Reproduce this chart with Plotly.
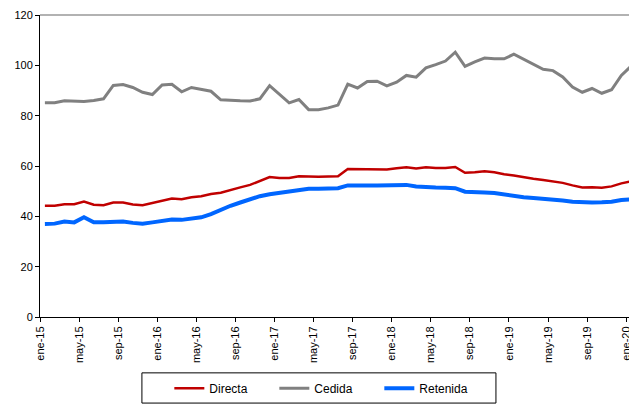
import plotly.graph_objects as go

meses = ["ene", "feb", "mar", "abr", "may", "jun", "jul", "ago", "sep", "oct", "nov", "dic"]
fechas = [f"{meses[i % 12]}-{15 + i // 12}" for i in range(61)]

directa = [44.2, 44.2, 44.8, 44.8, 45.9, 44.6, 44.4, 45.5, 45.5, 44.7,
           44.4, 45.2, 46.3, 47.1, 46.8, 47.6, 48.0, 48.9, 49.4, 50.6,
           51.5, 52.5, 53.9, 55.6, 55.2, 55.2, 55.9, 55.7, 55.7, 55.8,
           55.9, 58.8, 58.7, 58.7, 58.7, 58.6, 59.1, 59.5, 59.0, 59.5,
           59.2, 59.2, 59.6, 57.3, 57.5, 57.9, 57.5, 56.7, 56.2, 55.4,
           54.9, 54.4, 54.0, 53.3, 52.3, 51.5, 51.6, 51.4, 51.9, 53.1,
           53.9]

cedida = [85.1, 85.1, 85.9, 85.8, 85.6, 86.0, 86.7, 92.0, 92.4, 91.2,
          89.3, 88.4, 92.2, 92.5, 89.5, 91.2, 90.3, 89.7, 86.3, 86.0,
          85.9, 85.8, 86.7, 91.9, 88.4, 85.1, 86.4, 82.4, 82.4, 83.1,
          84.2, 92.5, 91.0, 93.6, 93.7, 91.8, 93.3, 96.0, 95.3, 99.0,
          100.3, 101.7, 105.2, 99.6, 101.4, 102.9, 102.6, 102.6, 104.4, 102.4,
          100.3, 98.4, 97.9, 95.4, 91.4, 89.3, 90.8, 88.9, 90.3, 96.0,
          99.7]

retenida = [37.0, 37.1, 37.9, 37.6, 39.6, 37.6, 37.6, 37.8, 37.9, 37.4,
            37.1, 37.6, 38.2, 38.7, 38.6, 39.0, 39.6, 40.9, 42.6, 44.2,
            45.5, 46.8, 48.0, 48.8, 49.3, 49.8, 50.6, 51.0, 51.0, 51.1,
            51.2, 52.3, 52.5, 52.3, 52.3, 52.4, 52.5, 52.5, 51.9, 51.9,
            51.5, 51.4, 51.2, 49.8, 49.5, 49.5, 49.3, 48.6, 48.0, 47.6,
            47.3, 47.1, 46.8, 46.3, 45.8, 45.5, 45.5, 45.6, 45.8, 46.5,
            46.8]

series = [
    ("Directa", directa, "#C00000", 2.5),
    ("Cedida", cedida, "#808080", 3),
    ("Retenida", retenida, "#0066FF", 4),
]

fig = go.Figure()
for nombre, vals, color, ancho in series:
    fig.add_trace(go.Scatter(
        x=list(range(len(fechas))),
        y=vals,
        mode="lines",
        name=nombre,
        line=dict(color=color, width=ancho),
    ))

# ticks sit on the left edge of each 4th month, like the excel category axis
tick_idx = list(range(0, 61, 4))

# the page body has an 8px margin, so margins are trimmed to compensate
fig.update_layout(
    width=637,
    height=406,
    margin=dict(l=32, r=9, t=7, b=97),
    paper_bgcolor="white",
    plot_bgcolor="white",
    font=dict(family="Arial, Liberation Sans", size=11, color="black"),
    showlegend=True,
    legend=dict(
        orientation="h",
        x=0.217, xanchor="left",
        y=-0.236, yanchor="middle",
        borderwidth=0,
        bgcolor="rgba(0,0,0,0)",
        entrywidth=60,
        entrywidthmode="pixels",
        font=dict(size=12),
    ),
    xaxis=dict(
        range=[-0.5, 60.5],
        tickvals=[i - 0.5 for i in tick_idx],
        ticktext=[fechas[i] for i in tick_idx],
        tickangle=-90,
        ticks="outside",
        ticklen=4,
        tickcolor="black",
        showline=True,
        linecolor="black",
        linewidth=1,
        showgrid=False,
        zeroline=False,
        automargin=False,
        ticklabeloverflow="allow",
    ),
    yaxis=dict(
        range=[0, 120],
        dtick=20,
        ticks="outside",
        ticklen=4,
        tickcolor="black",
        showline=True,
        linecolor="black",
        linewidth=1,
        showgrid=False,
        zeroline=False,
        automargin=False,
        ticklabeloverflow="allow",
    ),
    shapes=[
        dict(type="line", xref="paper", yref="paper", x0=0, y0=1, x1=1, y1=1,
             line=dict(color="#999999", width=1.5), layer="above"),
        dict(type="line", xref="paper", yref="paper", x0=1, y0=0, x1=1, y1=1,
             line=dict(color="#999999", width=1.5), layer="above"),
        # legend frame
        dict(type="rect", xref="paper", yref="paper",
             x0=0.171, x1=0.765, y0=-0.285, y1=-0.185,
             line=dict(color="black", width=1), layer="above"),
    ],
)

fig.write_html("out.html")
